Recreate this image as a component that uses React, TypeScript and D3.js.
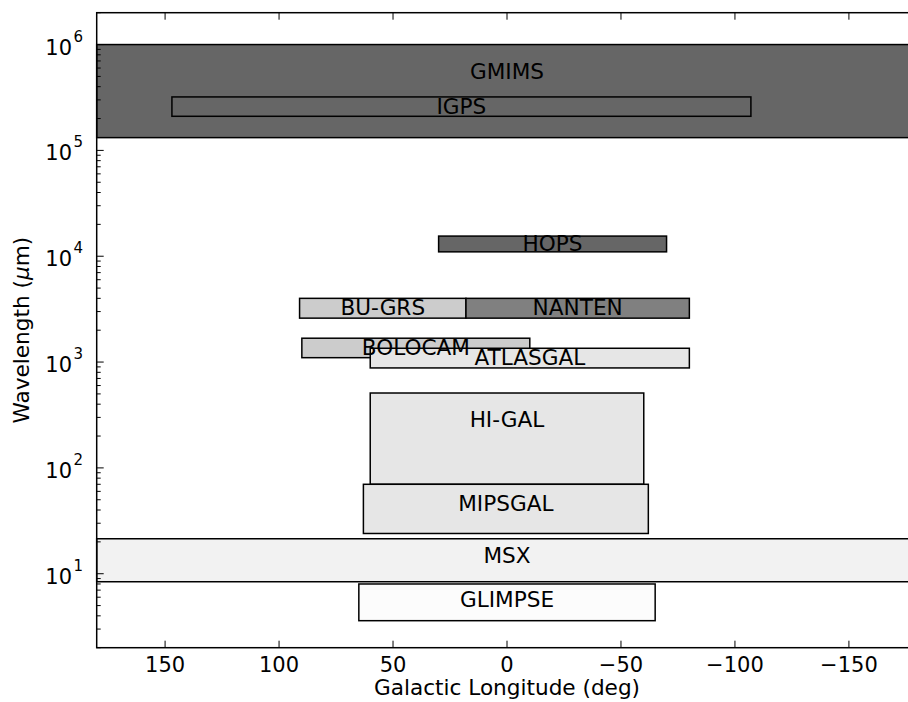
import React, { useEffect, useRef } from "react";
import * as d3 from "d3";

// Survey coverage: longitude range (deg) and wavelength range (micron)
const surveys = ["GMIMS", "IGPS", "HOPS", "BU-GRS", "NANTEN", "BOLOCAM", "ATLASGAL", "HI-GAL", "MIPSGAL", "MSX", "GLIMPSE"];
const lonStart = [180, 147, 30, 91, 18, 90, 60, 60, 63, 180, 65];
const lonEnd = [-180, -107, -70, 18, -80, -10, -80, -60, -62, -180, -65];
const waveLow = [1.32e5, 2.1e5, 1.1e4, 2.6e3, 2.6e3, 1.1e3, 880, 70, 24, 8.4, 3.6];
const waveHigh = [1e6, 3.2e5, 1.55e4, 4.0e3, 4.0e3, 1.68e3, 1.35e3, 510, 70, 21.4, 8.0];
const fills = ["#666666", "#666666", "#666666", "#cccccc", "#808080", "#cccccc", "#e6e6e6", "#e6e6e6", "#e6e6e6", "#f2f2f2", "#fcfcfc"];

const xTicks = [150, 100, 50, 0, -50, -100, -150];
const yTicks = [1, 2, 3, 4, 5, 6];

const W = 908, H = 702;
const FONT = "'DejaVu Sans', sans-serif";

export default function App() {
    const svgRef = useRef<SVGSVGElement>(null);

    useEffect(() => {
        const svg = d3.select(svgRef.current);
        svg.selectAll("*").remove();

        const left = 96.7, right = 917.3, top = 12.7, bottom = 647.7;

        const x = d3.scaleLinear().domain([180, -180]).range([left, right]);
        const y = d3.scaleLog().domain([2, 2e6]).range([bottom, top]);

        svg.append("rect").attr("width", W).attr("height", H).attr("fill", "#fff");

        // ── Survey boxes ──────────────────────────────────────────────────
        surveys.forEach((name, i) => {
            const x1 = x(lonStart[i]), x2 = x(lonEnd[i]);
            const y1 = y(waveHigh[i]), y2 = y(waveLow[i]);
            svg.append("rect")
                .attr("x", Math.min(x1, x2))
                .attr("y", y1)
                .attr("width", Math.abs(x2 - x1))
                .attr("height", y2 - y1)
                .attr("fill", fills[i])
                .attr("stroke", "#000")
                .attr("stroke-width", 1.5);
        });

        // labels sit at the arithmetic mean of the wavelength range
        surveys.forEach((name, i) => {
            svg.append("text")
                .attr("x", x((lonStart[i] + lonEnd[i]) / 2))
                .attr("y", y((waveLow[i] + waveHigh[i]) / 2) + 0.5)
                .attr("text-anchor", "middle")
                .attr("dominant-baseline", "central")
                .attr("font-size", "21.6px")
                .attr("font-family", FONT)
                .attr("fill", "#000")
                .text(name);
        });

        // ── Frame ─────────────────────────────────────────────────────────
        svg.append("rect")
            .attr("x", left).attr("y", top)
            .attr("width", right - left).attr("height", bottom - top)
            .attr("fill", "none")
            .attr("stroke", "#000")
            .attr("stroke-width", 1.5);

        // ── X ticks (inward, bottom and top) ──────────────────────────────
        xTicks.forEach(t => {
            const px = x(t);
            svg.append("line").attr("x1", px).attr("x2", px)
                .attr("y1", bottom).attr("y2", bottom - 7)
                .attr("stroke", "#000").attr("stroke-width", 1);
            svg.append("line").attr("x1", px).attr("x2", px)
                .attr("y1", top).attr("y2", top + 7)
                .attr("stroke", "#000").attr("stroke-width", 1);
            svg.append("text")
                .attr("x", px)
                .attr("y", 672)
                .attr("text-anchor", "middle")
                .attr("font-size", "21px")
                .attr("font-family", FONT)
                .text(t < 0 ? `\u2212${Math.abs(t)}` : `${t}`);
        });

        // ── Y ticks (log, inward) ─────────────────────────────────────────
        const [dMin, dMax] = y.domain();
        for (let e = 0; e <= 6; e++) {
            for (let m = 1; m <= 9; m++) {
                const v = m * Math.pow(10, e);
                if (v < dMin || v > dMax) continue;
                const len = m === 1 ? 7 : 4;
                svg.append("line")
                    .attr("x1", left).attr("x2", left + len)
                    .attr("y1", y(v)).attr("y2", y(v))
                    .attr("stroke", "#000").attr("stroke-width", 1);
            }
        }

        yTicks.forEach(e => {
            const py = y(Math.pow(10, e));
            svg.append("text")
                .attr("x", 72)
                .attr("y", py + 10)
                .attr("text-anchor", "end")
                .attr("font-size", "21px")
                .attr("font-family", FONT)
                .text("10");
            svg.append("text")
                .attr("x", 73.5)
                .attr("y", py - 3)
                .attr("font-size", "15px")
                .attr("font-family", FONT)
                .text(`${e}`);
        });

        // ── Axis labels ───────────────────────────────────────────────────
        svg.append("text")
            .attr("x", (left + right) / 2)
            .attr("y", 695)
            .attr("text-anchor", "middle")
            .attr("font-size", "21.6px")
            .attr("font-family", FONT)
            .text("Galactic Longitude (deg)");

        const yl = svg.append("text")
            .attr("transform", `translate(29, ${(top + bottom) / 2}) rotate(-90)`)
            .attr("text-anchor", "middle")
            .attr("font-size", "21.6px")
            .attr("font-family", FONT);
        yl.append("tspan").text("Wavelength (");
        yl.append("tspan").attr("font-style", "italic").text("\u03bc");
        yl.append("tspan").text("m)");
    }, []);

    return (
        <svg
            ref={svgRef}
            width={W}
            height={H}
            style={{ position: "absolute", left: 0, top: 0, display: "block" }}
        />
    );
}
